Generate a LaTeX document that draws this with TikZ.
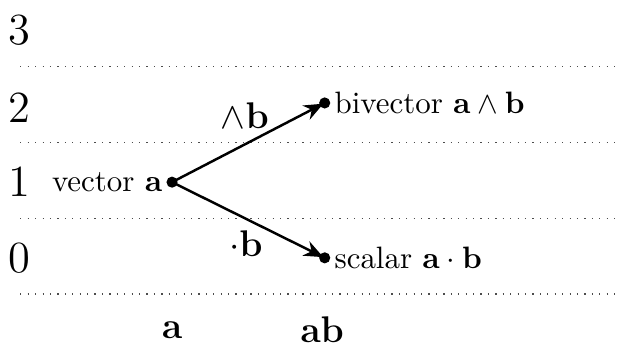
\documentclass[tikz,border=0pt]{standalone}
\usepackage{amsmath,amssymb}
\usepackage{tikz}
\usetikzlibrary{positioning,arrows.meta}
\tikzset{
  grade/.style   = {font=\Large, inner sep=0pt},
  sep/.style     = {dotted, thin, draw=black!70},
  blade/.style   = {circle, fill=black, inner sep=0pt, minimum size=3.6pt},
  blbl/.style    = {inner sep=1pt},
  prod/.style    = {-{Stealth[length=2.2mm, width=1.8mm]}, thick, shorten >=0.5pt},
  oplbl/.style   = {font=\large, inner sep=1pt},
  factor/.style  = {font=\large, inner sep=0pt, anchor=base},
}
\begin{document}
\begin{tikzpicture}
\useasboundingbox (0,0) rectangle (7.023,3.92);

% grade rows
\node[grade] (g3) at (0.22,3.58) {3};
\node[grade] (g2) at (0.22,2.70) {2};
\node[grade] (g1) at (0.22,1.85) {1};
\node[grade] (g0) at (0.22,0.99) {0};

\foreach \y in {3.16,2.30,1.44,0.58}
  \draw[sep] (0.23,\y) -- (7.02,\y);

% blades
\node[blade] (va) at (1.955,1.85) {};
\node[blade] (biv) at (3.69,2.75) {};
\node[blade] (sca) at (3.69,0.99) {};

\node[blbl, left=0pt of va] (vlbl) {vector $\mathbf{a}$};
\node[blbl, right=0pt of biv] (blbl) {bivector $\mathbf{a}\wedge\mathbf{b}$};
\node[blbl, right=0pt of sca] (slbl) {scalar $\mathbf{a}\cdot\mathbf{b}$};

\draw[prod] (va.center) -- node[oplbl, above left=3pt and -8pt] {$\wedge\mathbf{b}$} (biv.center);
\draw[prod] (va.center) -- node[oplbl, below left=2pt and -6pt] {$\cdot\mathbf{b}$} (sca.center);

% factors
\node[factor] (fa) at (1.955,0.07) {$\mathbf{a}$};
\node[factor] (fab) at (3.66,0.03) {$\mathbf{ab}$};

\end{tikzpicture}
\end{document}
